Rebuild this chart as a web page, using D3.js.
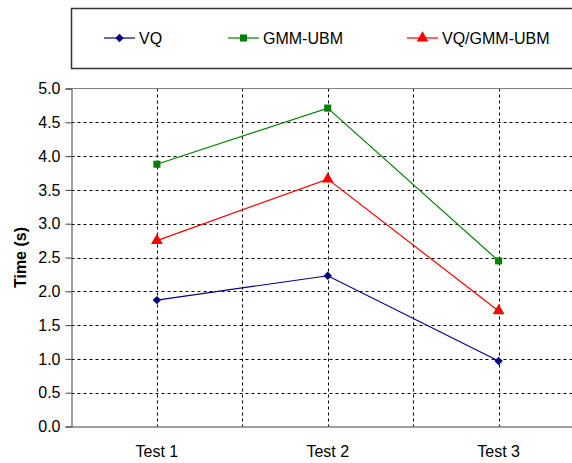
<!DOCTYPE html>
<html><head><meta charset="utf-8">
<script src="https://cdn.jsdelivr.net/npm/d3@7"></script>
<style>body{margin:0;background:#fff}svg{display:block}text{font-family:Arial,"Liberation Sans",sans-serif}</style>
</head><body>
<script>
const categories = ["Test 1", "Test 2", "Test 3"];
const seriesNames = ["VQ", "GMM-UBM", "VQ/GMM-UBM"];
const vqValues = [1.87, 2.23, 0.97];
const gmmValues = [3.88, 4.71, 2.45];
const hybridValues = [2.75, 3.66, 1.71];
const yTicks = [0, 0.5, 1, 1.5, 2, 2.5, 3, 3.5, 4, 4.5, 5];

(function () {
const colors = ["#000080", "#008000", "#FF0000"];
const symbols = [d3.symbolDiamond2, d3.symbolSquare, d3.symbolTriangle];
const sizes = [45, 50, 60];

const W = 572, H = 463;
const svg = d3.select("body").append("svg").attr("width", W).attr("height", H);
const pL = 71.5, pR = 584, pT = 88.5, pB = 426.5;

const x = d3.scaleBand().domain(categories).range([pL, pR]);
const y = d3.scaleLinear().domain([0, 5]).range([pB, pT]);

svg.append("g").selectAll("line").data(yTicks.filter(t => t > 0 && t < 5)).join("line")
  .attr("x1", pL).attr("x2", pR)
  .attr("y1", d => Math.round(y(d)) + 0.5).attr("y2", d => Math.round(y(d)) + 0.5)
  .attr("stroke", "#000").attr("stroke-width", 1).attr("stroke-dasharray", "3,3");
const vx = [];
categories.forEach((c, i) => { vx.push(x(c) + x.bandwidth() / 2); if (i > 0) vx.push(x(c)); });
svg.append("g").selectAll("line").data(vx).join("line")
  .attr("x1", d => Math.round(d) + 0.5).attr("x2", d => Math.round(d) + 0.5)
  .attr("y1", pT).attr("y2", pB)
  .attr("stroke", "#000").attr("stroke-width", 1).attr("stroke-dasharray", "3,3");
svg.append("line").attr("x1", pL).attr("x2", pR).attr("y1", pT).attr("y2", pT)
  .attr("stroke", "#808080").attr("stroke-width", 1);

const yAxis = d3.axisLeft(y).tickValues(yTicks).tickFormat(d3.format(".1f")).tickSizeOuter(0).tickSize(6).tickPadding(5);
const ya = svg.append("g").attr("transform", `translate(${pL},0)`).call(yAxis);
ya.select(".domain").attr("stroke", "#404040");
ya.selectAll(".tick line").attr("stroke", "#404040");
ya.selectAll("text").attr("font-size", 16).attr("fill", "#000").attr("font-family", "Arial, 'Liberation Sans', sans-serif");

const xAxis = d3.axisBottom(x).tickSize(0).tickPadding(19);
const xa = svg.append("g").attr("transform", `translate(0,${pB})`).call(xAxis);
xa.select(".domain").attr("stroke", "#404040");
xa.selectAll("text").attr("font-size", 16).attr("fill", "#000").attr("font-family", "Arial, 'Liberation Sans', sans-serif");

svg.append("text").attr("transform", `translate(26,${(pT + pB) / 2}) rotate(-90)`)
  .attr("text-anchor", "middle").attr("font-size", 16).attr("font-weight", "bold").text("Time (s)");

const allSeries = [vqValues, gmmValues, hybridValues];
const line = d3.line().x((d, i) => x(categories[i]) + x.bandwidth() / 2).y(d => y(d));
allSeries.forEach((vals, si) => {
  svg.append("path").datum(vals).attr("d", line).attr("fill", "none")
    .attr("stroke", colors[si]).attr("stroke-width", 1.2);
  svg.append("g").selectAll("path").data(vals).join("path")
    .attr("transform", (d, i) => `translate(${x(categories[i]) + x.bandwidth() / 2},${y(d)})`)
    .attr("d", d3.symbol().type(symbols[si]).size(sizes[si]))
    .attr("fill", colors[si]);
});

svg.append("rect").attr("x", 71.5).attr("y", 8.5).attr("width", 520).attr("height", 60)
  .attr("fill", "#fff").attr("stroke", "#333").attr("stroke-width", 1.5);
const legX = [104, 228, 407];
seriesNames.forEach((n, i) => {
  const g = svg.append("g").attr("transform", `translate(${legX[i]},38)`);
  g.append("line").attr("x1", 0).attr("x2", 31).attr("stroke", colors[i]).attr("stroke-width", 1.2);
  g.append("path").attr("transform", "translate(15.5,0)")
    .attr("d", d3.symbol().type(symbols[i]).size(sizes[i])).attr("fill", colors[i]);
  g.append("text").attr("x", 35).attr("y", 6).attr("font-size", 16).attr("fill", "#000").text(n);
});
})();
</script>
</body></html>
